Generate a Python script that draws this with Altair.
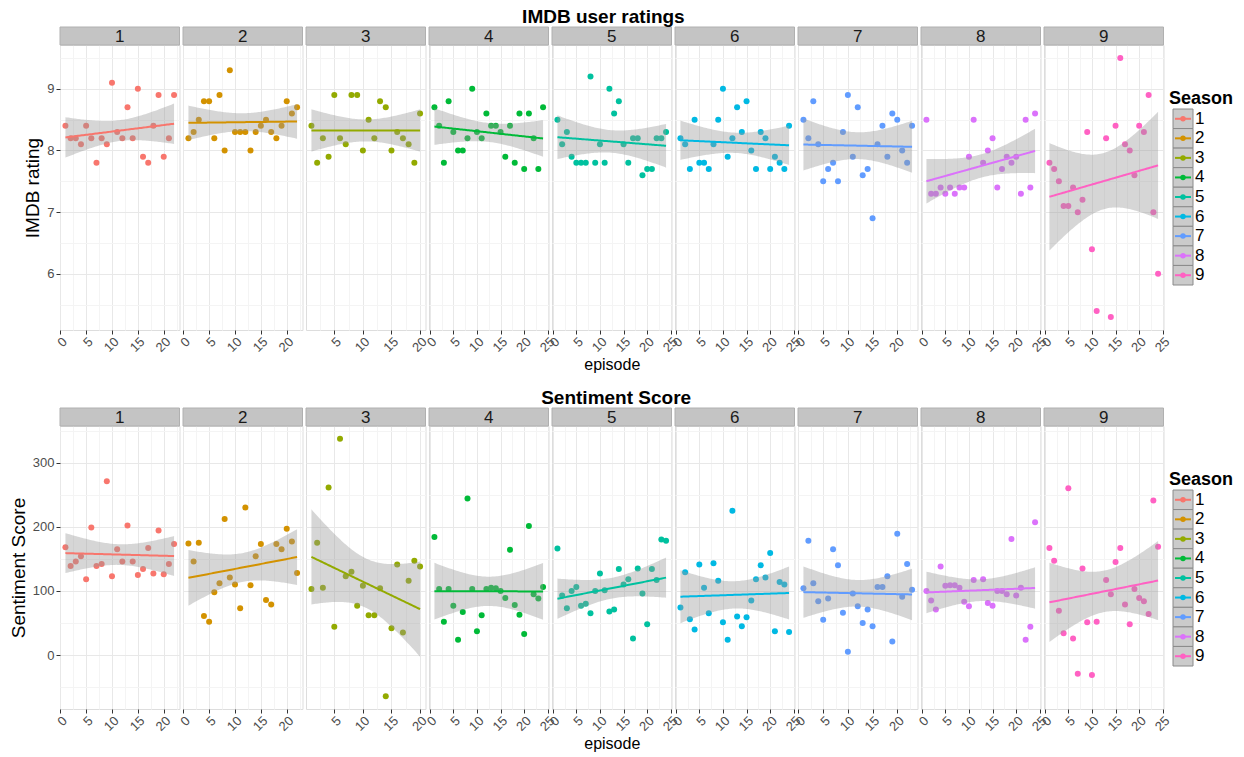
import altair as alt
import numpy as np
import pandas as pd

FONT = "Liberation Sans"
seasons = [1, 2, 3, 4, 5, 6, 7, 8, 9]
colors = ["#F8766D", "#D39200", "#93AA00", "#00BA38", "#00C19F",
          "#00B9E3", "#619CFF", "#DB72FB", "#FF61C3"]

ep_s1 = list(range(1, 23))
ep_s2 = list(range(1, 23))
ep_s3 = list(range(1, 21))
ep_s4 = list(range(1, 25))
ep_s5 = list(range(1, 25))
ep_s6 = list(range(1, 25))
ep_s7 = list(range(1, 24))
ep_s8 = [1, 2, 3, 4, 5, 6, 7, 8, 9, 10, 11, 13, 14, 15, 16, 17, 18, 19, 20, 21, 22, 23, 24]
ep_s9 = [1, 2, 3, 4, 5, 6, 7, 8, 9, 10, 11, 13, 14, 15, 16, 17, 18, 19, 20, 21, 22, 23, 24]

imdb_s1 = [8.4, 8.2, 8.2, 8.1, 8.4, 8.2, 7.8, 8.2, 8.1, 9.1, 8.3, 8.2, 8.7, 8.2, 9.0, 7.9, 7.8, 8.4, 8.9, 7.9, 8.2, 8.9]
imdb_s2 = [8.2, 8.3, 8.5, 8.8, 8.8, 8.2, 8.9, 8.0, 9.3, 8.3, 8.3, 8.3, 8.0, 8.3, 8.4, 8.5, 8.3, 8.2, 8.4, 8.8, 8.6, 8.7]
imdb_s3 = [8.4, 7.8, 8.2, 7.9, 8.9, 8.2, 8.1, 8.9, 8.9, 8.0, 8.5, 8.2, 8.8, 8.7, 8.0, 8.3, 8.2, 8.1, 7.8, 8.6]
imdb_s4 = [8.7, 8.4, 7.8, 8.8, 8.3, 8.0, 8.0, 8.2, 9.0, 8.3, 8.2, 8.6, 8.4, 8.4, 8.3, 7.9, 8.4, 7.8, 8.6, 7.7, 8.6, 8.2, 7.7, 8.7]
imdb_s5 = [8.5, 8.1, 8.3, 7.9, 7.8, 7.8, 7.8, 9.2, 7.8, 8.1, 7.8, 9.0, 8.6, 8.8, 8.1, 7.8, 8.2, 8.2, 7.6, 7.7, 7.7, 8.2, 8.2, 8.3]
imdb_s6 = [8.2, 8.1, 7.7, 8.5, 7.8, 7.8, 7.7, 8.1, 8.5, 9.0, 7.9, 8.2, 8.7, 8.3, 8.8, 8.0, 7.7, 8.3, 8.2, 7.7, 7.9, 7.8, 7.7, 8.4]
imdb_s7 = [8.5, 8.2, 8.8, 8.1, 7.5, 7.7, 7.8, 7.5, 8.3, 8.9, 7.9, 8.7, 7.6, 7.7, 6.9, 8.1, 8.4, 7.9, 8.6, 8.5, 8.0, 7.8, 8.4]
imdb_s8 = [8.5, 7.3, 7.3, 7.4, 7.3, 7.4, 7.3, 7.4, 7.4, 7.9, 8.5, 7.8, 8.0, 8.2, 7.4, 7.7, 7.9, 7.8, 7.9, 7.3, 8.5, 7.4, 8.6]
imdb_s9 = [7.8, 7.7, 7.5, 7.1, 7.1, 7.4, 7.0, 7.2, 8.3, 6.4, 5.4, 8.2, 5.3, 8.4, 9.5, 8.1, 8.0, 7.6, 8.4, 8.3, 8.9, 7.0, 6.0]

sent_s1 = [168, 139, 146, 154, 118, 199, 139, 142, 271, 123, 165, 146, 202, 146, 125, 134, 167, 127, 194, 126, 142, 173]
sent_s2 = [174, 146, 175, 61, 52, 98, 112, 212, 121, 110, 73, 230, 109, 154, 173, 86, 79, 173, 165, 197, 177, 128]
sent_s3 = [103, 175, 105, 261, 44, 337, 123, 130, 77, 108, 62, 62, 104, -64, 42, 141, 35, 116, 147, 138]
sent_s4 = [184, 103, 52, 103, 77, 24, 67, 244, 103, 37, 62, 103, 105, 104, 100, 89, 164, 78, 63, 33, 201, 95, 88, 106]
sent_s5 = [166, 93, 73, 100, 106, 77, 80, 65, 100, 127, 101, 68, 71, 134, 110, 118, 26, 135, 96, 48, 134, 117, 180, 178]
sent_s6 = [74, 129, 56, 40, 141, 105, 65, 143, 116, 51, 24, 225, 60, 45, 59, 85, 118, 140, 121, 159, 37, 114, 110, 36]
sent_s7 = [104, 178, 112, 84, 55, 88, 165, 140, 66, 5, 96, 76, 50, 71, 45, 106, 106, 123, 21, 189, 91, 142, 102]
sent_s8 = [100, 85, 71, 138, 108, 109, 109, 105, 83, 76, 117, 118, 81, 77, 100, 100, 95, 181, 93, 105, 24, 44, 207]
sent_s9 = [167, 147, 69, 34, 260, 26, -29, 135, 51, -31, 52, 117, 95, 145, 167, 79, 48, 103, 89, 84, 64, 241, 169]

episodes = [ep_s1, ep_s2, ep_s3, ep_s4, ep_s5, ep_s6, ep_s7, ep_s8, ep_s9]
imdb = [imdb_s1, imdb_s2, imdb_s3, imdb_s4, imdb_s5, imdb_s6, imdb_s7, imdb_s8, imdb_s9]
sent = [sent_s1, sent_s2, sent_s3, sent_s4, sent_s5, sent_s6, sent_s7, sent_s8, sent_s9]


def t975(df):
    z = 1.959964
    return (z + (z**3 + z) / (4 * df) + (5 * z**5 + 16 * z**3 + 3 * z) / (96 * df**2)
            + (3 * z**7 + 19 * z**5 + 17 * z**3 - 15 * z) / (384 * df**3))


def lm_fit(x, y, k=80):
    x = np.asarray(x, float)
    y = np.asarray(y, float)
    n = len(x)
    xb, yb = x.mean(), y.mean()
    sxx = ((x - xb) ** 2).sum()
    b1 = ((x - xb) * (y - yb)).sum() / sxx
    b0 = yb - b1 * xb
    s = np.sqrt(((y - b0 - b1 * x) ** 2).sum() / (n - 2))
    g = np.linspace(x.min(), x.max(), k)
    f = b0 + b1 * g
    se = s * np.sqrt(1 / n + (g - xb) ** 2 / sxx)
    t = t975(n - 2)
    return pd.DataFrame({"x": g, "fit": f, "lo": f - t * se, "hi": f + t * se})


def cond(test, a, b):
    return {"condition": {"test": test, "value": a}, "value": b}


def expand(vals):
    lo, hi = min(vals), max(vals)
    r = hi - lo
    return [float(lo - 0.05 * r), float(hi + 0.05 * r)]


def make_row(values, title, ytitle, major, width, height, tdx):
    allv = [v for s in values for v in s]
    ydom = expand(allv)
    half = major / 2.0
    yvals = [float(k * half) for k in range(-100, 100) if ydom[0] <= k * half <= ydom[1]]
    ytest = f"datum.value % {major} !== 0"
    panels = []
    for i, s in enumerate(seasons):
        xs = episodes[i]
        ys = values[i]
        col = colors[i]
        xdom = expand(xs)
        xvals = [k * 2.5 for k in range(-2, 12) if xdom[0] <= k * 2.5 <= xdom[1]]
        pts = pd.DataFrame({"episode": xs, "value": ys})
        fit = lm_fit(xs, ys)
        xaxis = alt.Axis(
            values=xvals,
            labelExpr="datum.value % 5 === 0 ? '' + datum.value : ''",
            labelAngle=-45, labelFontSize=13, labelColor="#4d4d4d", labelFont=FONT,
            labelOverlap=False, labelBound=False,
            gridColor=cond("datum.value % 5 !== 0", "#f4f4f4", "#e8e8e8"),
            tickColor=cond("datum.value % 5 !== 0", "transparent", "#333333"),
            tickSize=4, domain=False, labelPadding=1,
            title="episode" if s == 5 else None, titleFontSize=16, titleFont=FONT,
            titleFontWeight="normal", titleColor="#000000", titlePadding=2)
        if i == 0:
            yaxis = alt.Axis(
                values=yvals, labelExpr=f"{ytest} ? '' : '' + datum.value",
                labelFontSize=13, labelColor="#4d4d4d", labelFont=FONT,
                labelOverlap=False,
                gridColor=cond(ytest, "#f4f4f4", "#e8e8e8"),
                tickColor=cond(ytest, "transparent", "#333333"),
                tickSize=4, domain=False, title=ytitle, titleFontSize=19,
                titleFont=FONT, titleFontWeight="normal", titleColor="#000000",
                titlePadding=4)
        else:
            yaxis = alt.Axis(values=yvals, labels=False, ticks=False, domain=False,
                             title=None, gridColor=cond(ytest, "#f4f4f4", "#e8e8e8"))
        xsc = alt.Scale(domain=xdom, nice=False, zero=False)
        ysc = alt.Scale(domain=ydom, nice=False, zero=False)
        p = alt.Chart(pts).mark_circle(size=36, opacity=1, color=col).encode(
            x=alt.X("episode:Q", scale=xsc, axis=xaxis),
            y=alt.Y("value:Q", scale=ysc, axis=yaxis))
        band = alt.Chart(fit).mark_area(color="#999999", opacity=0.4).encode(
            x=alt.X("x:Q", scale=xsc, axis=xaxis),
            y=alt.Y("lo:Q", scale=ysc, axis=yaxis), y2="hi:Q")
        line = alt.Chart(fit).mark_line(color=col, strokeWidth=2).encode(
            x=alt.X("x:Q", scale=xsc, axis=xaxis),
            y=alt.Y("fit:Q", scale=ysc, axis=yaxis))
        sdf = pd.DataFrame({"season": [str(s)]})
        strip = alt.Chart(sdf).mark_rect(fill="#c4c4c4", stroke="#b0b0b0", strokeWidth=1).encode(
            x=alt.value(0), x2=alt.value(width), y=alt.value(-18), y2=alt.value(0))
        stext = alt.Chart(sdf).mark_text(fontSize=17, font=FONT, color="#1a1a1a",
                                         baseline="middle").encode(
            x=alt.value(width / 2), y=alt.value(-8.5), text="season:N")
        panels.append(alt.layer(p, band, line, strip, stext).properties(
            width=width, height=height))

    ldf = pd.DataFrame({"season": [str(s) for s in seasons], "color": colors})
    ysc = alt.Scale(domain=[str(s) for s in seasons], range=[64, 240],
                    paddingInner=0, paddingOuter=0)
    key = alt.Chart(ldf).mark_rect(fill="#cbcbcb", stroke="#8a8a8a", strokeWidth=1).encode(
        x=alt.value(6), x2=alt.value(26), y=alt.Y("season:N", scale=ysc, axis=None))
    kline = alt.Chart(ldf).mark_rule(strokeWidth=2).encode(
        x=alt.value(8), x2=alt.value(24),
        y=alt.Y("season:N", scale=ysc, axis=None, bandPosition=0.5),
        color=alt.Color("color:N", scale=None))
    kpt = alt.Chart(ldf).mark_circle(size=30, opacity=1).encode(
        x=alt.value(16), y=alt.Y("season:N", scale=ysc, axis=None, bandPosition=0.5),
        color=alt.Color("color:N", scale=None))
    ktxt = alt.Chart(ldf).mark_text(align="left", baseline="middle", fontSize=17,
                                    font=FONT, color="#000000").encode(
        x=alt.value(28), y=alt.Y("season:N", scale=ysc, axis=None, bandPosition=0.5),
        text="season:N")
    ktitle = alt.Chart(pd.DataFrame({"t": ["Season"]})).mark_text(
        align="left", baseline="alphabetic", fontSize=18, fontWeight="bold",
        font=FONT, color="#000000").encode(x=alt.value(2), y=alt.value(59), text="t:N")
    legend = alt.layer(key, kline, kpt, ktxt, ktitle).properties(
        width=66, height=height, view=alt.ViewBackground(stroke="transparent"))

    return alt.hconcat(*panels, legend, spacing=3, bounds="flush").properties(
        title=alt.TitleParams(title, fontSize=19, fontWeight="bold", font=FONT,
                              anchor="middle", offset=-1, dx=tdx, color="#000000"))


top = make_row(imdb, "IMDB user ratings", "IMDB rating", 1, 119.5, 285, -25)
bottom = make_row(sent, "Sentiment Score", "Sentiment Score", 100, 119.5, 283, -5)

chart = alt.concat(top, bottom, columns=1, spacing=16, align="none").configure_view(
    stroke="#c4c4c4", strokeWidth=1).configure(
    padding={"left": 0, "top": 0, "right": 0, "bottom": 0}, background="#ffffff")

chart.save("out.html", embed_options={"renderer": "svg", "actions": False})
